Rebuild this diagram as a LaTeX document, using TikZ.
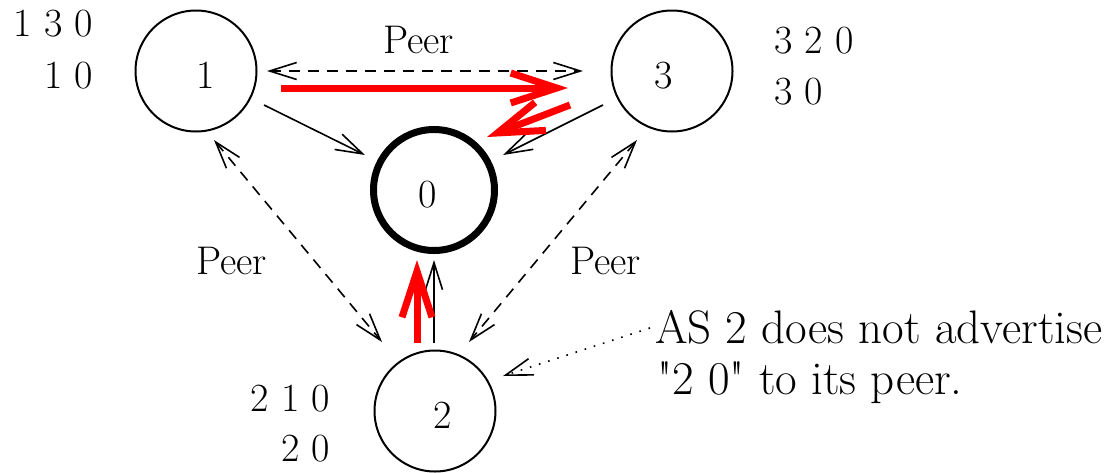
\documentclass[tikz,border=0pt]{standalone}
\usetikzlibrary{arrows.meta,calc}
\begin{document}
\begin{tikzpicture}[x=1pt,y=-1pt,
  asnode/.style={draw,circle,line width=2pt,minimum size=121pt,inner sep=0pt,outer sep=0pt},
  originnode/.style={draw,circle,line width=7pt,minimum size=121pt,inner sep=0pt,outer sep=0pt},
  num/.style={inner sep=0pt,font=\fontsize{40}{40}\selectfont},
  note/.style={inner sep=0pt,font=\fontsize{47}{47}\selectfont},
  tipthin/.tip={Straight Barb[length=27pt,width=17pt]},
  tipred/.tip={Straight Barb[length=46pt,width=30pt]},
  route/.style={line width=1.6pt,-tipthin},
  peerlink/.style={line width=1.6pt,dash pattern=on 11pt off 8pt,tipthin-tipthin},
  redroute/.style={line width=7pt,red,-tipred},
  hint/.style={line width=1.6pt,dash pattern=on 1.6pt off 8pt,-tipthin}
]
\useasboundingbox (0,0) rectangle (1109,472);

% AS circles
\node[asnode] (n1) at (196,71) {};
\node[asnode] (n3) at (672,71) {};
\node[asnode] (n2) at (435,411) {};
\node[originnode] (n0) at (434,190) {};

% numbers in circles
\node[num,anchor=base] (t1) at (206,88) {1};
\node[num,anchor=base] (t3) at (664,88) {3};
\node[num,anchor=base] (t0) at (428,207) {0};
\node[num,anchor=base] (t2) at (443,428) {2};

% path tables
\node[num,anchor=base east] (p1a) at (93,36) {1 3 0};
\node[num,anchor=base east] (p1b) at (93,88) {1 0};
\node[num,anchor=base west] (p3a) at (774,53) {3 2 0};
\node[num,anchor=base west] (p3b) at (774,104) {3 0};
\node[num,anchor=base east] (p2a) at (330,411) {2 1 0};
\node[num,anchor=base east] (p2b) at (330,461) {2 0};

% peer labels
\node[num,anchor=base west] (peertop) at (383,53) {Peer};
\node[num,anchor=base west] (peerleft) at (196,274) {Peer};
\node[num,anchor=base west] (peerright) at (570,274) {Peer};

% annotation
\node[note,anchor=base west] (note1) at (655,343) {AS 2 does not advertise};
\node[note,anchor=base west] (note2) at (657,394) {\textquotedbl 2 0\textquotedbl{} to its peer.};

% peer links
\draw[peerlink] ($(n1)+(71,0)$) -- ($(n3)+(-89,0)$);
\draw[peerlink] ($(n1)+(18,69)$) -- ($(n2)+(-53,-69)$);
\draw[peerlink] ($(n3)+(-35,69)$) -- ($(n2)+(34,-69)$);

% customer routes to 0
\draw[route] ($(n1)+(68,34)$) -- ($(n0)+(-69,-35)$);
\draw[route] ($(n3)+(-69,34)$) -- ($(n0)+(69,-35)$);
\draw[route] ($(n2)+(-1,-68)$) -- ($(n0)+(0,70)$);

% red advertisements
\draw[redroute] ($(n1)+(85,17)$) -- ($(n3)+(-104,17)$);
\draw[redroute] ($(n3)+(-102,34)$) -- ($(n0)+(53,-53)$);
\draw[redroute] ($(n2)+(-18,-68)$) -- ($(n0)+(-17,70)$);

% annotation pointer
\draw[hint] ($(note1.base west)+(-5,-15)$) -- ($(n2)+(68,-35)$);
\end{tikzpicture}
\end{document}
